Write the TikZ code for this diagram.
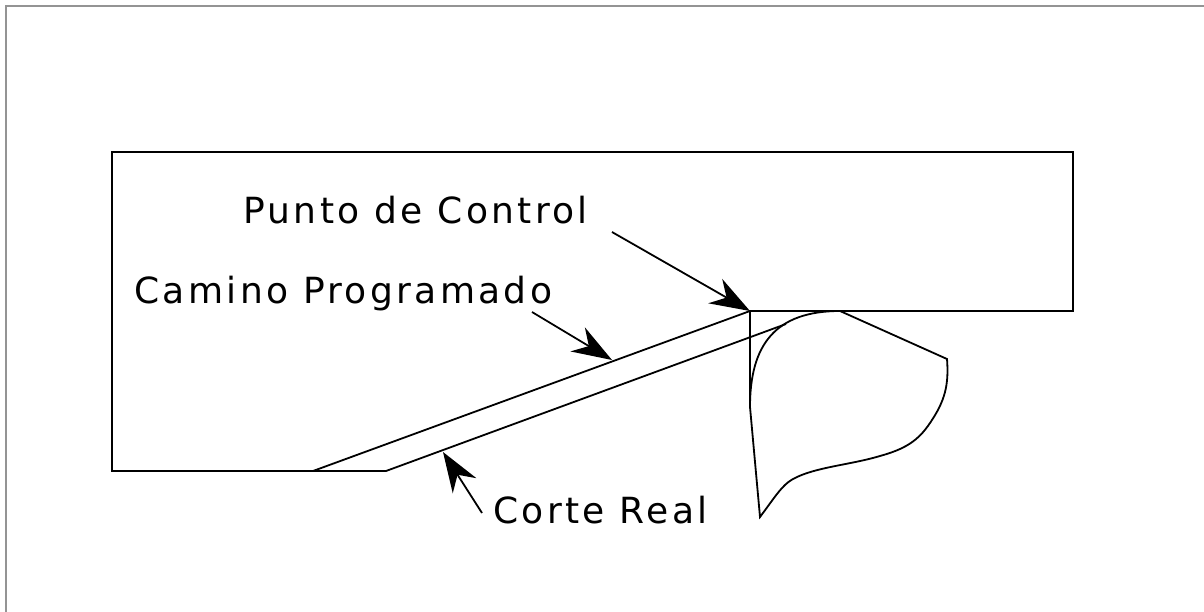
\documentclass[tikz,border=0pt]{standalone}
\usepackage{fontspec}
\setmainfont[LetterSpace=9.3]{DejaVu Sans}
\usetikzlibrary{arrows.meta}
\tikzset{
	outline/.style={line width=0.036cm, black, line join=miter},
	frameline/.style={line width=0.04cm, black!42},
	pointer/.style={line width=0.036cm, -{Stealth[length=0.8cm, width=0.56cm, inset=0.26cm]}},
	labeltext/.style={anchor=base west, inner sep=0pt, font=\fontsize{20.5}{24}\selectfont},
}

\begin{document}
\begin{tikzpicture}[x=0.02cm, y=-0.02cm]
			\useasboundingbox (0, 0) rectangle (1204, 612);
			
			\draw[frameline] (6, 612) -- (6, 6) -- (1204, 6);
			
			\draw[outline] (750, 311) -- (1073, 311) -- (1073, 152) -- (112, 152) -- (112, 471) -- (313, 471) -- cycle;
			\draw[outline] (313, 471) -- (386, 471) -- (786, 324);
			\draw[outline] (750, 311) -- (750, 407);
			
			\draw[outline] (750, 407) .. controls (750, 345) and (775, 311) .. (840, 311) -- (947, 359)
				.. controls (949, 385) and (945, 401) .. (930, 423)
				.. controls (918, 441) and (905, 449) .. (880, 456)
				.. controls (850, 465) and (815, 467) .. (793, 479)
				.. controls (782, 485) and (775, 497) .. (760, 517) -- cycle;
			
			\node[labeltext] (control) at (243, 223) {Punto de Control};
			\node[labeltext] (camino) at (134, 303) {Camino Programado};
			\node[labeltext] (corte) at (493, 523) {Corte Real};
			
			\coordinate (controlstart) at (612, 232);
			\coordinate (controltip) at (750, 311);
			\coordinate (caminostart) at (532, 312);
			\coordinate (caminotip) at (612, 360);
			\coordinate (cortestart) at (482, 513);
			\coordinate (cortetip) at (443, 452);
			
			\draw[pointer] (controlstart) -- (controltip);
			\draw[pointer] (caminostart) -- (caminotip);
			\draw[pointer] (cortestart) -- (cortetip);
		\end{tikzpicture}
\end{document}
